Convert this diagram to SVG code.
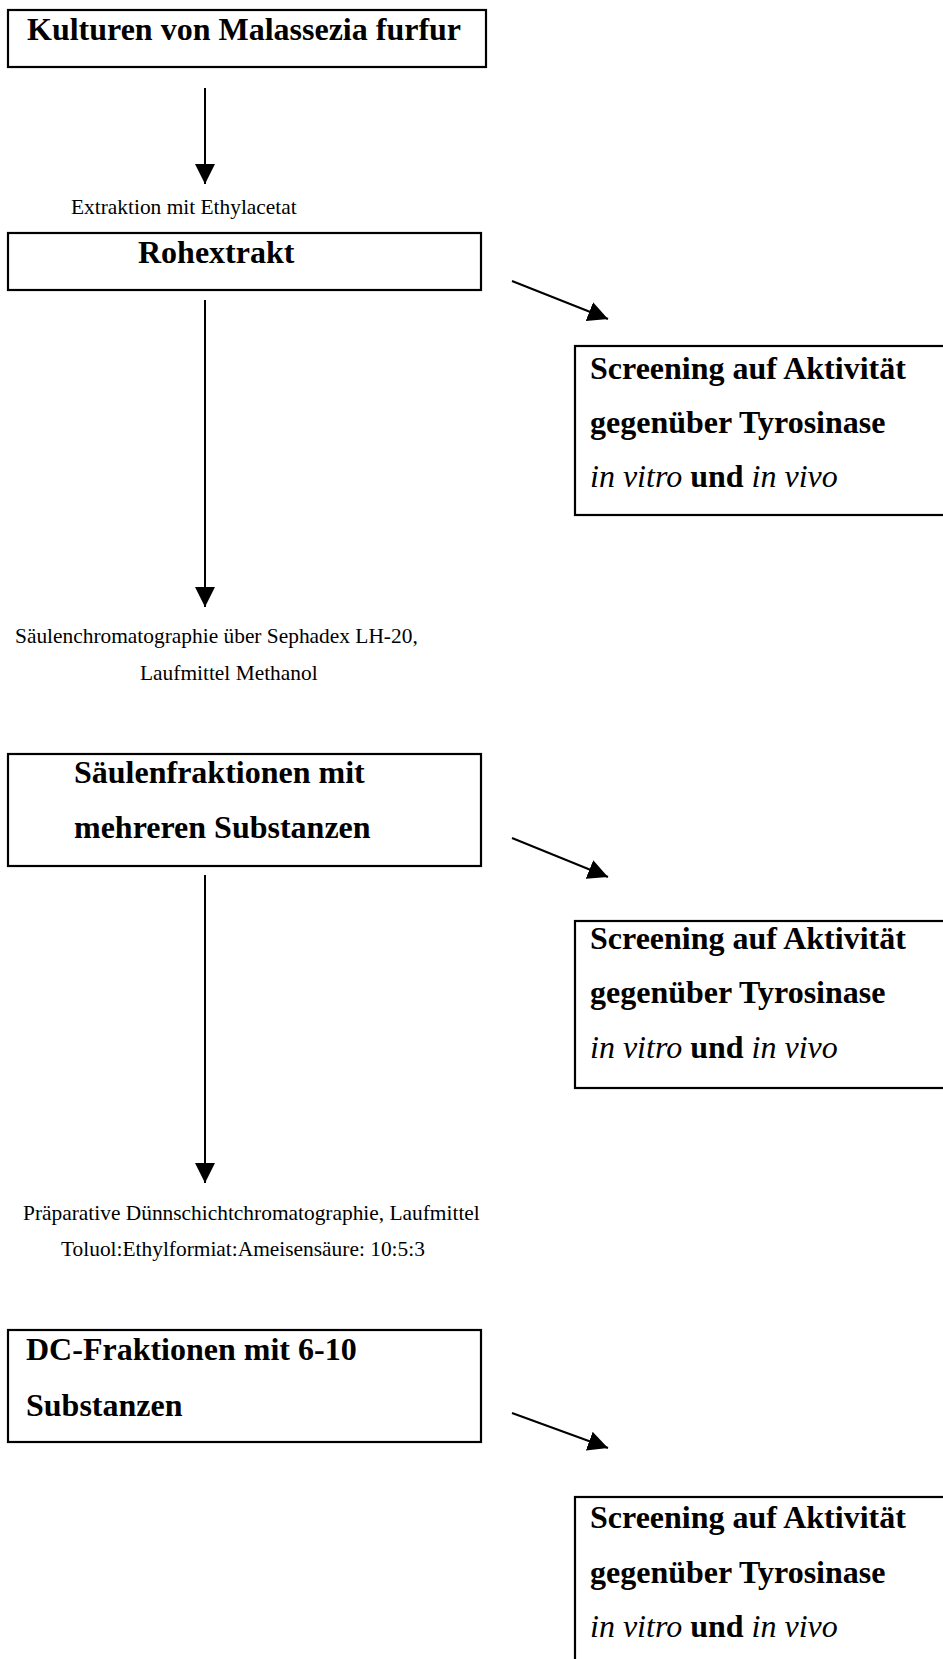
<svg xmlns="http://www.w3.org/2000/svg" width="943" height="1659" viewBox="0 0 943 1659">
<style>
.box{fill:#fff;stroke:#000;stroke-width:2.2}
.b{font-family:"Liberation Serif","Times New Roman",serif;font-weight:bold;font-size:32px;fill:#000}
.s{font-family:"Liberation Serif","Times New Roman",serif;font-size:21.4px;fill:#000}
.i{font-style:italic;font-weight:normal}
.ln{stroke:#000;stroke-width:2;fill:none}
</style>
<defs>
<marker id="ah" viewBox="0 0 20 20" refX="20" refY="10" markerWidth="20" markerHeight="20" markerUnits="userSpaceOnUse" orient="auto">
<path d="M0,0 L20,10 L0,20 Z" fill="#000"/>
</marker>
</defs>
<rect width="943" height="1659" fill="#fff"/>
<g id="connectors">
<line class="ln" x1="205" y1="88" x2="205" y2="184" marker-end="url(#ah)"/>
<line class="ln" x1="205" y1="300" x2="205" y2="607" marker-end="url(#ah)"/>
<line class="ln" x1="205" y1="875" x2="205" y2="1183" marker-end="url(#ah)"/>
<line class="ln" x1="512" y1="281" x2="608" y2="319" marker-end="url(#ah)"/>
<line class="ln" x1="512" y1="838" x2="608" y2="877" marker-end="url(#ah)"/>
<line class="ln" x1="512" y1="1413" x2="608" y2="1448" marker-end="url(#ah)"/>
</g>
<g id="n1"><rect class="box" x="8" y="10" width="478" height="57"/><text class="b" x="27" y="40">Kulturen von Malassezia furfur</text></g>
<g id="l1"><text class="s" x="71" y="214">Extraktion mit Ethylacetat</text></g>
<g id="n2"><rect class="box" x="8" y="233" width="473" height="57"/><text class="b" x="138" y="263">Rohextrakt</text></g>
<g id="s1"><rect class="box" x="575" y="346" width="390" height="169"/>
<text class="b" x="590" y="379">Screening auf Aktivität</text>
<text class="b" x="590" y="433">gegenüber Tyrosinase</text>
<text class="b" x="590" y="487"><tspan class="i">in vitro</tspan> und <tspan class="i">in vivo</tspan></text></g>
<g id="l2"><text class="s" x="15" y="643">Säulenchromatographie über Sephadex LH-20,</text><text class="s" x="140" y="680">Laufmittel Methanol</text></g>
<g id="n3"><rect class="box" x="8" y="754" width="473" height="112"/>
<text class="b" x="74" y="783">Säulenfraktionen mit</text>
<text class="b" x="74" y="838">mehreren Substanzen</text></g>
<g id="s2"><rect class="box" x="575" y="921" width="390" height="167"/>
<text class="b" x="590" y="949">Screening auf Aktivität</text>
<text class="b" x="590" y="1003">gegenüber Tyrosinase</text>
<text class="b" x="590" y="1058"><tspan class="i">in vitro</tspan> und <tspan class="i">in vivo</tspan></text></g>
<g id="l3"><text class="s" x="23" y="1220">Präparative Dünnschichtchromatographie, Laufmittel</text><text class="s" x="61" y="1256">Toluol:Ethylformiat:Ameisensäure: 10:5:3</text></g>
<g id="n4"><rect class="box" x="8" y="1330" width="473" height="112"/>
<text class="b" x="26" y="1360">DC-Fraktionen mit 6-10</text>
<text class="b" x="26" y="1416">Substanzen</text></g>
<g id="s3"><rect class="box" x="575" y="1497" width="390" height="200"/>
<text class="b" x="590" y="1528">Screening auf Aktivität</text>
<text class="b" x="590" y="1583">gegenüber Tyrosinase</text>
<text class="b" x="590" y="1637"><tspan class="i">in vitro</tspan> und <tspan class="i">in vivo</tspan></text></g>
</svg>
